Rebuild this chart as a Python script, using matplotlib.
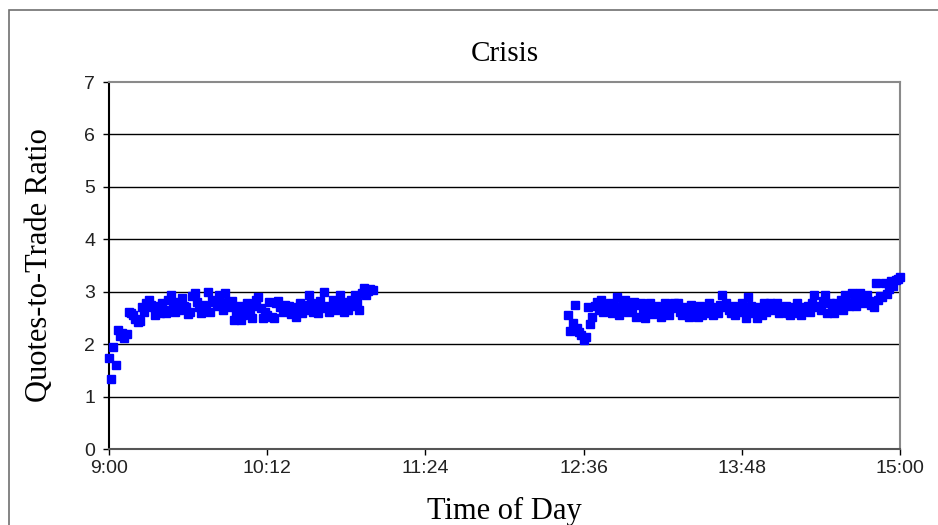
import numpy as np
import matplotlib
matplotlib.use("Agg")
import matplotlib.pyplot as plt
from matplotlib.patches import Rectangle

# quotes-to-trade ratio, one value per minute
# morning session 9:00 - 11:00
am_start = 0  # minutes after 9:00
am_ratio = [
    1.74, 1.34, 1.95, 1.60, 2.27, 2.15, 2.22, 2.12, 2.20, 2.62,
    2.60, 2.55, 2.48, 2.42, 2.45, 2.70, 2.62, 2.78, 2.84, 2.75,
    2.70, 2.55, 2.72, 2.60, 2.78, 2.66, 2.60, 2.85, 2.93, 2.70,
    2.62, 2.80, 2.65, 2.88, 2.72, 2.70, 2.58, 2.62, 2.92, 2.97,
    2.80, 2.70, 2.60, 2.75, 2.68, 3.00, 2.62, 2.85, 2.80, 2.72,
    2.93, 2.78, 2.65, 2.98, 2.80, 2.70, 2.82, 2.46, 2.60, 2.72,
    2.46, 2.55, 2.70, 2.78, 2.62, 2.50, 2.72, 2.85, 2.90, 2.68,
    2.50, 2.62, 2.55, 2.80, 2.52, 2.50, 2.78, 2.82, 2.70, 2.62,
    2.75, 2.68, 2.72, 2.58, 2.65, 2.52, 2.70, 2.78, 2.60, 2.66,
    2.75, 2.93, 2.78, 2.62, 2.70, 2.60, 2.82, 2.68, 3.00, 2.72,
    2.62, 2.70, 2.85, 2.65, 2.78, 2.93, 2.70, 2.62, 2.80, 2.66,
    2.85, 2.72, 2.93, 2.80, 2.65, 2.98, 3.07, 2.93, 3.02, 3.05,
    3.04,
]
# afternoon session 12:29 - 15:00
pm_start = 209
pm_ratio = [
    2.56, 2.25, 2.40, 2.75, 2.30, 2.24, 2.18, 2.08, 2.14, 2.70,
    2.38, 2.52, 2.72, 2.80, 2.65, 2.84, 2.62, 2.70, 2.66, 2.78,
    2.60, 2.72, 2.90, 2.56, 2.68, 2.78, 2.84, 2.62, 2.70, 2.65,
    2.80, 2.52, 2.74, 2.78, 2.66, 2.50, 2.70, 2.78, 2.58, 2.62,
    2.72, 2.60, 2.52, 2.70, 2.78, 2.62, 2.56, 2.68, 2.78, 2.72,
    2.78, 2.62, 2.56, 2.70, 2.66, 2.52, 2.75, 2.62, 2.60, 2.52,
    2.72, 2.56, 2.64, 2.60, 2.78, 2.70, 2.56, 2.66, 2.60, 2.74,
    2.93, 2.70, 2.78, 2.66, 2.60, 2.72, 2.56, 2.70, 2.62, 2.78,
    2.66, 2.50, 2.90, 2.72, 2.60, 2.66, 2.50, 2.70, 2.56, 2.78,
    2.62, 2.70, 2.78, 2.66, 2.72, 2.78, 2.60, 2.70, 2.66, 2.72,
    2.60, 2.56, 2.70, 2.62, 2.78, 2.60, 2.56, 2.70, 2.66, 2.72,
    2.62, 2.78, 2.93, 2.70, 2.72, 2.66, 2.82, 2.93, 2.60, 2.78,
    2.70, 2.60, 2.78, 2.72, 2.84, 2.66, 2.93, 2.78, 2.72, 2.97,
    2.80, 2.72, 2.84, 2.97, 2.78, 2.86, 2.93, 2.82, 2.74, 2.70,
    3.17, 2.85, 2.92, 2.90, 3.17, 2.95, 3.05, 3.20, 3.10, 3.23,
    3.25, 3.28,
]

x_ticks = [0, 72, 144, 216, 288, 360]
x_labels = ["9:00", "10:12", "11:24", "12:36", "13:48", "15:00"]
y_ticks = [0, 1, 2, 3, 4, 5, 6, 7]

minutes = np.concatenate([am_start + np.arange(len(am_ratio)),
                          pm_start + np.arange(len(pm_ratio))])
ratio = np.array(am_ratio + pm_ratio)

fig = plt.figure(figsize=(9.38, 5.25), dpi=100)
ax = fig.add_axes([109 / 938, 76 / 525, 791 / 938, 367 / 525])

# outer chart border
fig.patches.append(Rectangle((9 / 938, -0.1), 1.2, 1 - 10 / 525 + 0.1,
                             transform=fig.transFigure, fill=False,
                             edgecolor="#707070", linewidth=1.2))

for y in y_ticks[1:-1]:
    ax.axhline(y, color="black", linewidth=1.0, zorder=1)

ax.plot(minutes, ratio, linestyle="none", marker="s", markersize=5.8,
        color="#0000FF", markeredgecolor="#0000FF", zorder=3, clip_on=False)

ax.set_xlim(0, 360)
ax.set_ylim(0, 7)
ax.set_xticks(x_ticks)
ax.set_xticklabels(x_labels)
ax.set_yticks(y_ticks)

for side in ["top", "right"]:
    ax.spines[side].set_color("#8a8a8a")
    ax.spines[side].set_linewidth(1.5)
ax.spines["left"].set_color("black")
ax.spines["left"].set_linewidth(1.5)
ax.spines["bottom"].set_color("#555555")
ax.spines["bottom"].set_linewidth(1.5)

ax.tick_params(axis="both", direction="out", length=4, width=1,
               labelsize=14, colors="black")
ax.tick_params(axis="x", pad=4)
ax.tick_params(axis="y", pad=6)
for lab in ax.get_xticklabels() + ax.get_yticklabels():
    lab.set_family("Liberation Sans")
    lab.set_color("#222222")

serif = "Liberation Serif"
ax.set_title("Crisis", family=serif, fontsize=21, pad=15)
ax.set_xlabel("Time of Day", family=serif, fontsize=22, labelpad=14)
ax.set_ylabel("Quotes-to-Trade Ratio", family=serif, fontsize=22, labelpad=22)

fig.savefig("out.png", dpi=100)
